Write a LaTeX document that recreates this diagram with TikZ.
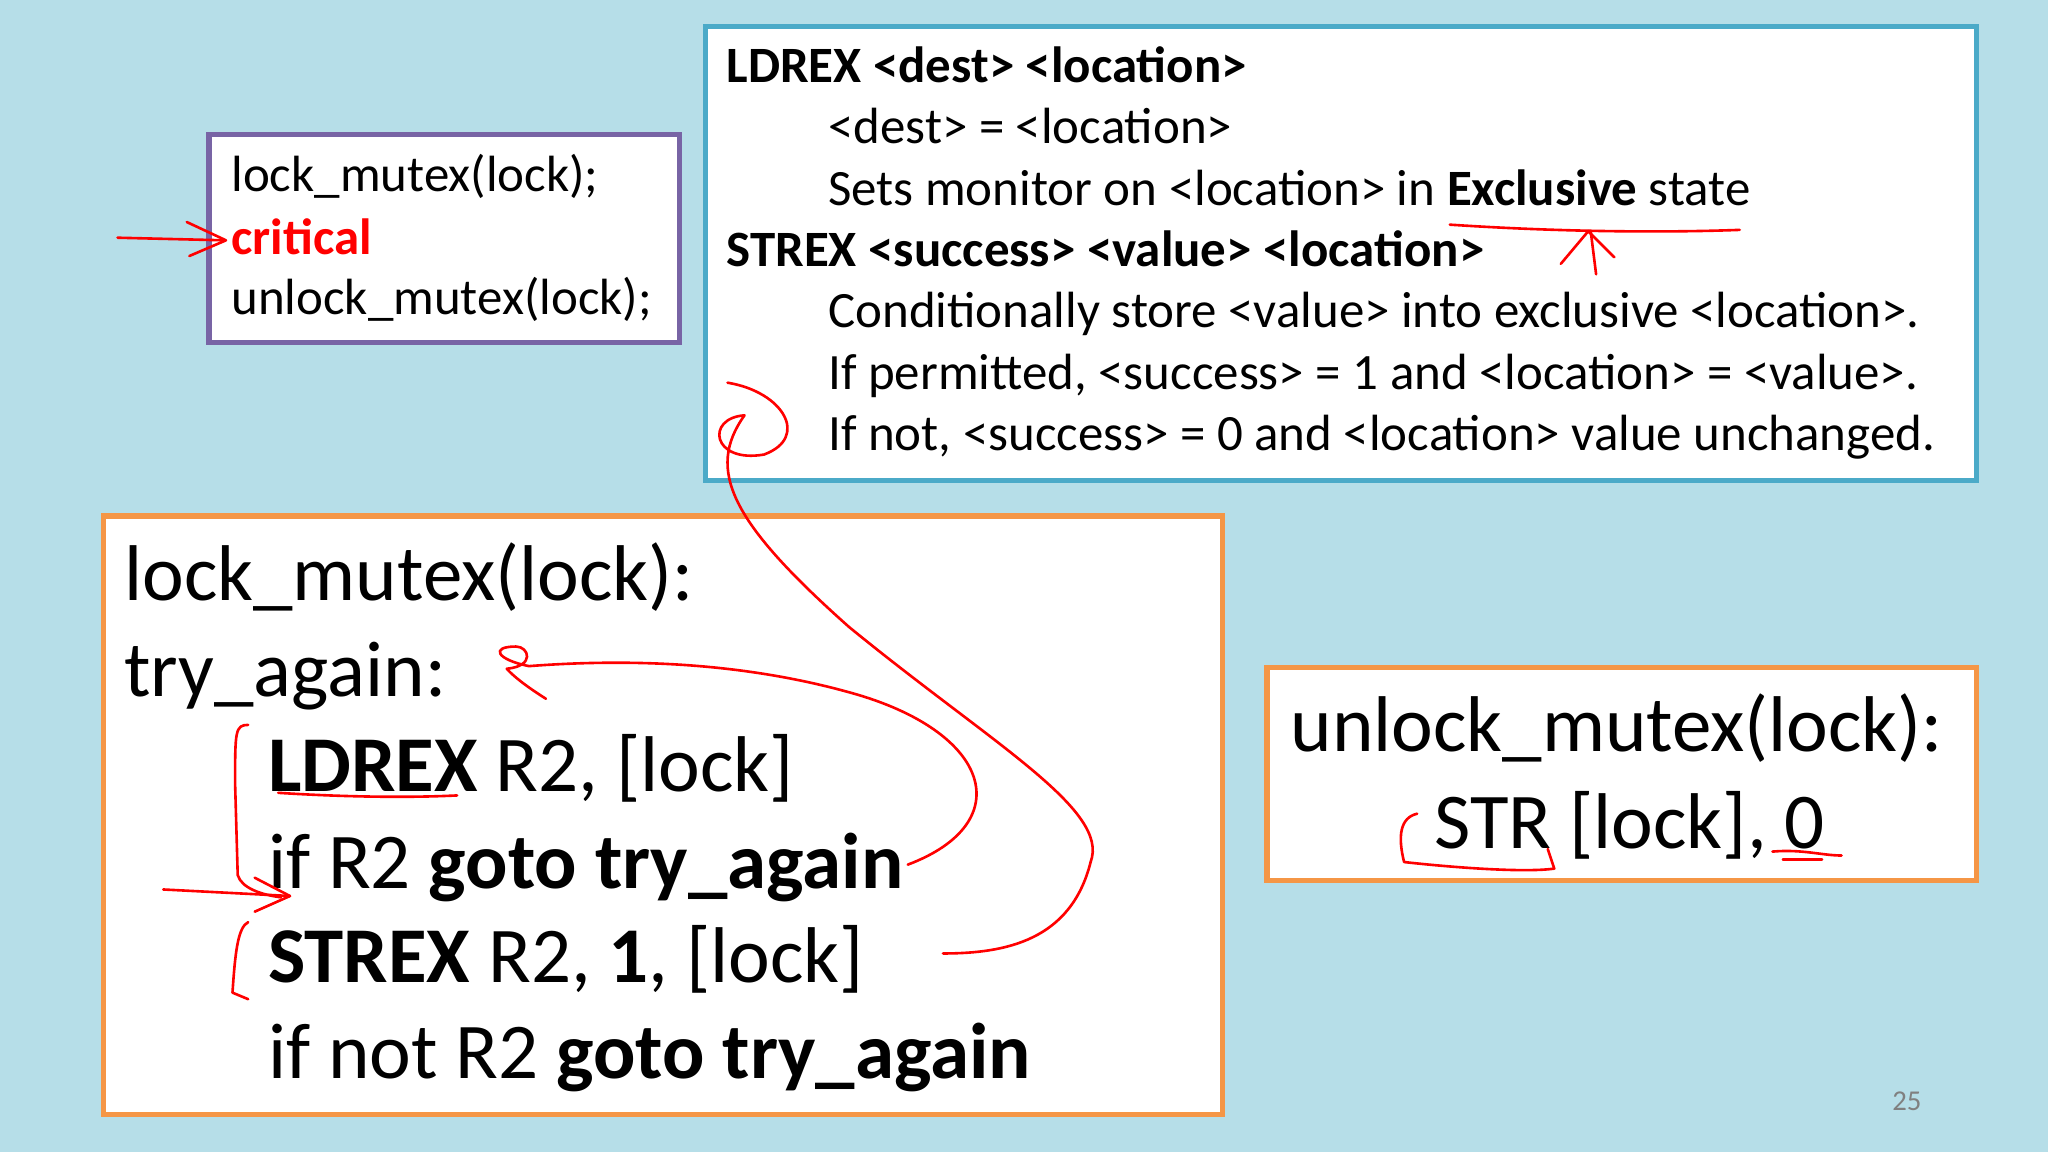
\documentclass[tikz,border=0pt]{standalone}
\usepackage{fontspec}
\setmainfont{Carlito}
\begin{document}
\begin{tikzpicture}[x=1pt,y=-1pt,
 big/.style={anchor=base west,inner sep=0pt,font=\fontsize{60.5}{64}\selectfont},
 sm/.style={anchor=base west,inner sep=0pt,font=\fontsize{39}{42}\selectfont},
 ink/.style={draw=red,line width=2pt,line cap=round,line join=round}]
\fill[fill={rgb,255:red,182;green,222;blue,232}] (0,0) rectangle (1568,882);
\draw[line width=4pt,draw={rgb,255:red,120;green,100;blue,165},fill=white] (160,103) rectangle (520,262);
\draw[line width=4pt,draw={rgb,255:red,75;green,170;blue,200},fill=white] (540,20) rectangle (1513,368);
\draw[line width=4pt,draw={rgb,255:red,245;green,150;blue,70},fill=white] (79,395) rectangle (936,853);
\draw[line width=4pt,draw={rgb,255:red,245;green,150;blue,70},fill=white] (970,511) rectangle (1513,674);
% small box
\node[sm] (s1) at (177,147) {lock\_mutex(lock);};
\node[sm,text=red] (s2) at (177,195) {\textbf{critical}};
\node[sm] (s3) at (177,241) {unlock\_mutex(lock);};
% top box
\node[sm] (t1) at (556,63) {\textbf{LDREX <dest> <location>}};
\node[sm] (t2) at (634,110) {<dest> = <location>};
\node[sm] (t3) at (634,157) {Sets monitor on <location> in \textbf{Exclusive} state};
\node[sm] (t4) at (556,204) {\textbf{STREX <success> <value> <location>}};
\node[sm] (t5) at (634,251) {Conditionally store <value> into exclusive <location>.};
\node[sm] (t6) at (634,298) {If permitted, <success> = 1 and <location> = <value>.};
\node[sm] (t7) at (634,345) {If not, <success> = 0 and <location> value unchanged.};
% big box
\node[big] (b1) at (95,460) {lock\_mutex(lock):};
\node[big] (b2) at (95,533) {try\_again:};
\node[big] (b3) at (205,606) {\textbf{LDREX} R2, [lock]};
\node[big] (b4) at (205,680) {if R2 \textbf{goto try\_again}};
\node[big] (b5) at (205,752) {\textbf{STREX} R2, \textbf{1}, [lock]};
\node[big] (b6) at (205,826) {if not R2 \textbf{goto try\_again}};
% unlock box
\node[big] (u1) at (988,575) {unlock\_mutex(lock):};
\node[big] (u2) at (1098,650) {STR [lock], 0};
\node[anchor=base,text=gray,font=\fontsize{22}{24}\selectfont] (pg) at (1460,850) {25};
% red ink
\draw[ink] (90,182) -- (172,184);
\draw[ink] (143,170) -- (173,184) -- (145,196);
\draw[ink] (1110,172) .. controls (1200,178) and (1280,178) .. (1332,176);
\draw[ink] (1222,210) -- (1218,178);
\draw[ink] (1195,202) -- (1216,177) -- (1236,197);
\draw[ink] (557,293) .. controls (600,300) and (620,335) .. (585,348)
  .. controls (545,355) and (540,320) .. (570,318)
  .. controls (540,360) and (560,400) .. (650,480)
  .. controls (760,570) and (850,620) .. (835,660)
  .. controls (820,720) and (770,730) .. (722,730);
\draw[ink] (695,662) .. controls (780,630) and (760,560) .. (650,530)
  .. controls (560,505) and (470,505) .. (405,510)
  .. controls (380,505) and (375,495) .. (395,495)
  .. controls (405,495) and (410,510) .. (388,512)
  .. controls (395,520) and (410,530) .. (418,535);
\draw[ink] (190,555) .. controls (180,555) and (180,560) .. (180,600) -- (182,670) .. controls (185,680) and (200,685) .. (215,687);
\draw[ink] (125,681) -- (222,686);
\draw[ink] (195,672) -- (222,686) -- (195,698);
\draw[ink] (190,706) .. controls (182,710) and (180,730) .. (178,760) -- (190,765);
\draw[ink] (213,607) .. controls (260,610) and (310,611) .. (350,609);
\draw[ink] (1085,623) .. controls (1072,626) and (1070,640) .. (1075,660) .. controls (1120,665) and (1170,668) .. (1190,665) -- (1185,650);
\draw[ink] (1357,652) .. controls (1380,650) and (1395,655) .. (1410,655);
\draw[ink] (1365,658) -- (1395,658);
\end{tikzpicture}
\end{document}
